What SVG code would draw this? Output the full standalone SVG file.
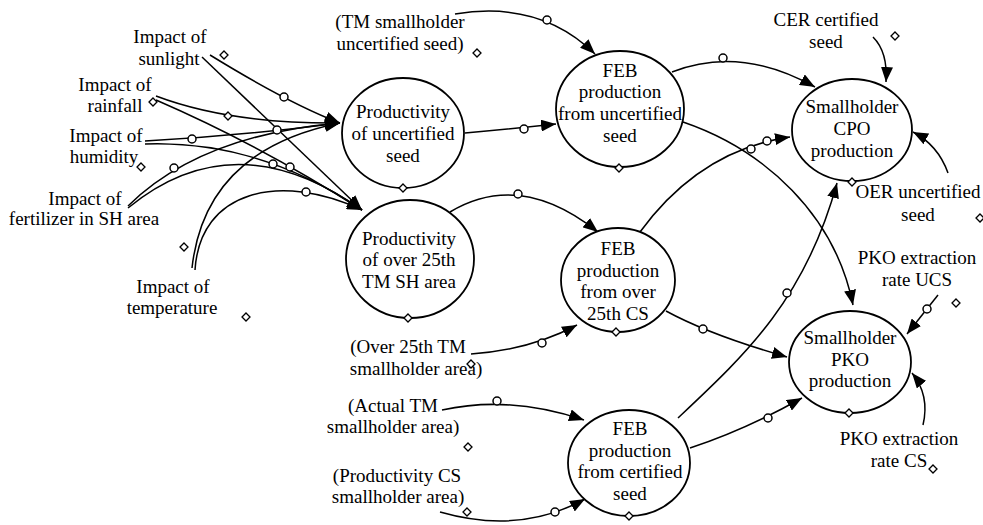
<svg xmlns="http://www.w3.org/2000/svg" width="983" height="525" viewBox="0 0 983 525">
  <defs>
    <marker id="arrow" markerUnits="userSpaceOnUse" markerWidth="16" markerHeight="12" refX="15" refY="6" orient="auto">
      <path d="M0,0 L15,6 L0,12 Z" fill="#000"/>
    </marker>
    <style>
      .node ellipse { fill: #fff; stroke: #000; stroke-width: 1.8; }
      .link { fill: none; stroke: #000; stroke-width: 1.5; marker-end: url(#arrow); }
      .handle { fill: #fff; stroke: #000; stroke-width: 1.5; }
      .dia { fill: #fff; stroke: #000; stroke-width: 1.3; }
    </style>
  </defs>
  <rect width="983" height="525" fill="#fff"/>

  <!-- connectors -->
  <g id="connectors">
    <path class="link" d="M210,55 Q288,103 340,123"/>
    <path class="link" d="M202,57 L362,210"/>
    <path class="link" d="M156,96 Q230,124 340,123"/>
    <path class="link" d="M156,100 Q260,145 362,210"/>
    <path class="link" d="M145,141 Q240,136 340,123"/>
    <path class="link" d="M145,144 Q260,140 362,210"/>
    <path class="link" d="M128,206 Q200,135 340,123"/>
    <path class="link" d="M128,208 Q235,120 362,210"/>
    <path class="link" d="M192,268 Q205,150 340,123"/>
    <path class="link" d="M195,270 C200,190 280,172 362,210"/>

    <path class="link" d="M455,14 Q540,0 595,54"/>
    <path class="link" d="M465,133 Q510,129 556,124"/>
    <path class="link" d="M672,72 Q740,45 815,87"/>
    <path class="link" d="M873,37 Q888,52 886,82"/>
    <path class="link" d="M948,173 Q938,145 913,132"/>
    <path class="link" d="M683,122 C765,150 835,215 853,305"/>
    <path class="link" d="M640,232 Q700,150 790,137"/>
    <path class="link" d="M450,212 Q520,170 598,232"/>
    <path class="link" d="M471,354 Q530,350 577,325"/>
    <path class="link" d="M666,311 Q710,335 787,357"/>
    <path class="link" d="M678,418 C745,355 805,300 837,183"/>
    <path class="link" d="M690,448 Q745,430 802,398"/>
    <path class="link" d="M442,410 Q510,395 584,420"/>
    <path class="link" d="M440,512 Q520,535 585,499"/>
    <path class="link" d="M938,295 L907,334"/>
    <path class="link" d="M923,425 Q930,395 912,373"/>

    <!-- connector handles -->
    <circle class="handle" cx="284" cy="97" r="4"/>
    <circle class="handle" cx="277" cy="130" r="4"/>
    <circle class="handle" cx="192" cy="139" r="4"/>
    <circle class="handle" cx="174" cy="168" r="4"/>
    <circle class="handle" cx="273" cy="164" r="4"/>
    <circle class="handle" cx="290" cy="167" r="4"/>
    <circle class="handle" cx="306" cy="192" r="4"/>
    <circle class="handle" cx="547" cy="20" r="4"/>
    <circle class="handle" cx="524" cy="129" r="4"/>
    <circle class="handle" cx="723" cy="58" r="4"/>
    <circle class="handle" cx="898" cy="127" r="4"/>
    <circle class="handle" cx="751" cy="149" r="4"/>
    <circle class="handle" cx="767" cy="141" r="4"/>
    <circle class="handle" cx="518" cy="194" r="4"/>
    <circle class="handle" cx="542" cy="343" r="4"/>
    <circle class="handle" cx="703" cy="329" r="4"/>
    <circle class="handle" cx="787" cy="293" r="4"/>
    <circle class="handle" cx="768" cy="418" r="4"/>
    <circle class="handle" cx="497" cy="401" r="4"/>
    <circle class="handle" cx="555" cy="512" r="4"/>
    <circle class="handle" cx="927" cy="309" r="4"/>
    <path class="dia" d="M228,112 L232,116 L228,120 L224,116 Z"/>
  </g>

  <g font-family="'Liberation Serif', Tinos, 'Times New Roman', 'DejaVu Serif', serif" font-size="19" text-anchor="middle" fill="#000">
  <!-- auxiliary variables -->
  <g id="sunlight">
    <text x="170" y="43">Impact of</text>
    <text x="169" y="65">sunlight</text>
    <path class="dia" d="M224,51 L228,55 L224,59 L220,55 Z"/>
  </g>
  <g id="rainfall">
    <text x="115" y="91">Impact of</text>
    <text x="115" y="112">rainfall</text>
    <path class="dia" d="M153,98 L157,102 L153,106 L149,102 Z"/>
  </g>
  <g id="humidity">
    <text x="106" y="142">Impact of</text>
    <text x="104" y="163">humidity</text>
    <path class="dia" d="M141,163 L145,167 L141,171 L137,167 Z"/>
  </g>
  <g id="fertilizer">
    <text x="85" y="205">Impact of</text>
    <text x="84" y="225">fertilizer in SH area</text>
    <path class="dia" d="M184,243 L188,247 L184,251 L180,247 Z"/>
  </g>
  <g id="temperature">
    <text x="173" y="293">Impact of</text>
    <text x="172" y="314">temperature</text>
    <path class="dia" d="M246,313 L250,317 L246,321 L242,317 Z"/>
  </g>
  <g id="tm-uncertified">
    <text x="400" y="28">(TM smallholder</text>
    <text x="400" y="50">uncertified seed)</text>
    <path class="dia" d="M477,49 L481,53 L477,57 L473,53 Z"/>
  </g>
  <g id="cer-certified">
    <text x="826" y="26">CER certified</text>
    <text x="826" y="48">seed</text>
    <path class="dia" d="M895,32 L899,36 L895,40 L891,36 Z"/>
  </g>
  <g id="oer-uncertified">
    <text x="918" y="198">OER uncertified</text>
    <text x="918" y="221">seed</text>
    <path class="dia" d="M980,214 L984,218 L980,222 L976,218 Z"/>
  </g>
  <g id="pko-rate-ucs">
    <text x="917" y="264">PKO extraction</text>
    <text x="917" y="286">rate UCS</text>
    <path class="dia" d="M956,299 L960,303 L956,307 L952,303 Z"/>
  </g>
  <g id="pko-rate-cs">
    <text x="899" y="445">PKO extraction</text>
    <text x="899" y="467">rate CS</text>
    <path class="dia" d="M933,465 L937,469 L933,473 L929,469 Z"/>
  </g>
  <g id="over25-area">
    <text x="408" y="353">(Over 25th TM</text>
    <text x="416" y="375">smallholder area)</text>
    <path class="dia" d="M471,360 L475,364 L471,368 L467,364 Z"/>
  </g>
  <g id="actual-area">
    <text x="393" y="412">(Actual TM</text>
    <text x="393" y="433">smallholder area)</text>
    <path class="dia" d="M468,443 L472,447 L468,451 L464,447 Z"/>
  </g>
  <g id="productivity-cs">
    <text x="397" y="482">(Productivity CS</text>
    <text x="398" y="503">smallholder area)</text>
    <path class="dia" d="M467,508 L471,512 L467,516 L463,512 Z"/>
  </g>

  <!-- main variables -->
  <g id="productivity-uncertified" class="node">
    <ellipse cx="403" cy="133" rx="61" ry="55"/>
    <text x="403" y="118">Productivity</text>
    <text x="403" y="140">of uncertified</text>
    <text x="403" y="162">seed</text>
    <path class="dia" d="M403,184 L407,188 L403,192 L399,188 Z"/>
  </g>
  <g id="feb-uncertified" class="node">
    <ellipse cx="620" cy="109" rx="64" ry="58"/>
    <text x="620" y="77">FEB</text>
    <text x="620" y="98">production</text>
    <text x="620" y="120">from uncertified</text>
    <text x="620" y="142">seed</text>
    <path class="dia" d="M619,164 L623,168 L619,172 L615,168 Z"/>
  </g>
  <g id="cpo-production" class="node">
    <ellipse cx="852" cy="130" rx="60" ry="51"/>
    <text x="852" y="113">Smallholder</text>
    <text x="852" y="135">CPO</text>
    <text x="852" y="157">production</text>
    <path class="dia" d="M852,178 L856,182 L852,186 L848,182 Z"/>
  </g>
  <g id="productivity-over25" class="node">
    <ellipse cx="410" cy="259" rx="64" ry="59"/>
    <text x="409" y="245">Productivity</text>
    <text x="409" y="266">of over 25th</text>
    <text x="409" y="288">TM SH area</text>
    <path class="dia" d="M408,314 L412,318 L408,322 L404,318 Z"/>
  </g>
  <g id="feb-over25" class="node">
    <ellipse cx="618" cy="280" rx="57" ry="52"/>
    <text x="618" y="255">FEB</text>
    <text x="618" y="277">production</text>
    <text x="618" y="298">from over</text>
    <text x="618" y="320">25th CS</text>
    <path class="dia" d="M616,328 L620,332 L616,336 L612,332 Z"/>
  </g>
  <g id="feb-certified" class="node">
    <ellipse cx="629" cy="463" rx="61" ry="53"/>
    <text x="630" y="435">FEB</text>
    <text x="630" y="457">production</text>
    <text x="630" y="478">from certified</text>
    <text x="630" y="500">seed</text>
    <path class="dia" d="M629,512 L633,516 L629,520 L625,516 Z"/>
  </g>
  <g id="pko-production" class="node">
    <ellipse cx="850" cy="362" rx="61" ry="51"/>
    <text x="850" y="344">Smallholder</text>
    <text x="850" y="366">PKO</text>
    <text x="850" y="387">production</text>
    <path class="dia" d="M849,409 L853,413 L849,417 L845,413 Z"/>
  </g>
  </g>
</svg>
